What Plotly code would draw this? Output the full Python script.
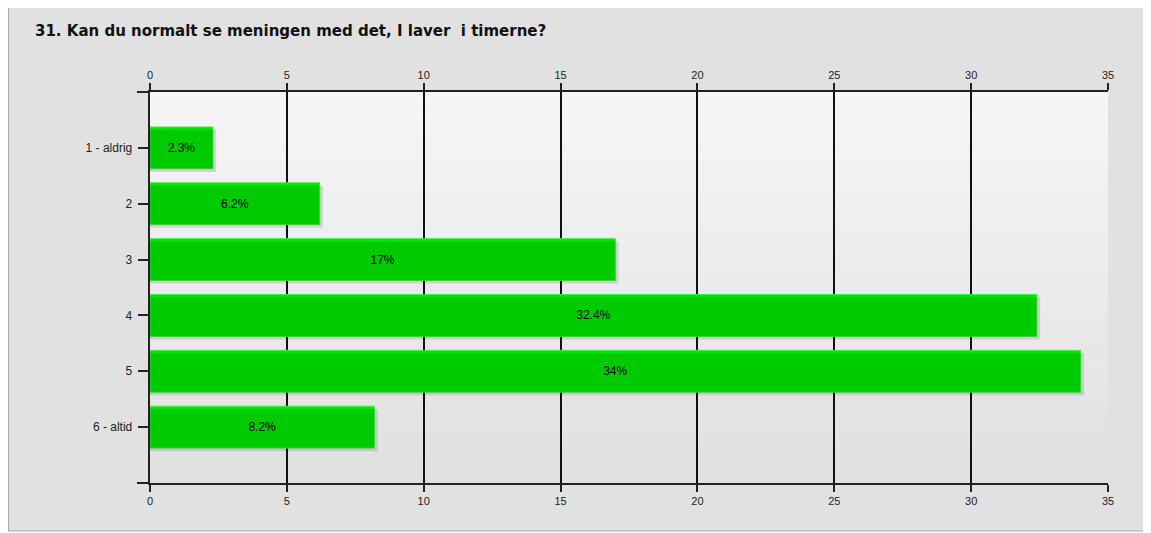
import plotly.graph_objects as go

categories = ["1 - aldrig", "2", "3", "4", "5", "6 - altid"]
values = [2.3, 6.2, 17, 32.4, 34, 8.2]
labels = ["2.3%", "6.2%", "17%", "32.4%", "34%", "8.2%"]
x_ticks = [0, 5, 10, 15, 20, 25, 30, 35]

# page body has an 8px margin; figure is placed at (8, 8)
OFF = 8
W, H = 1151 - OFF, 533 - OFF
L, R, T, B = 150 - OFF, 1108 - OFF, 92 - OFF, 483 - OFF


def px(x):
    return (x - OFF - L) / (R - L)


def py(y):
    return (B - (y - OFF)) / (B - T)


fig = go.Figure()

# shadow
fig.add_trace(go.Bar(
    y=categories, x=[v + 0.12 for v in values], orientation="h",
    width=0.75, offset=-0.375 + 0.055,
    marker=dict(color="rgba(0,0,0,0.12)", line=dict(width=0)),
    hoverinfo="skip", showlegend=False, xaxis="x2",
))
fig.add_trace(go.Bar(
    y=categories, x=values, orientation="h", width=0.75,
    marker=dict(color="#00e600", opacity=1, line=dict(color="#40f040", width=1)),
    opacity=1,
    text=labels, textposition="inside", insidetextanchor="middle",
    textfont=dict(family="Liberation Sans, Arial", size=12, color="#000000"),
    showlegend=False,
))

shapes = []
# outer frame
shapes.append(dict(type="rect", xref="paper", yref="paper",
                   x0=px(8.5), x1=px(1148), y0=py(531), y1=py(4.5),
                   line=dict(color="#a8a8a8", width=1), fillcolor="#e1e1e1", layer="below"))
# gradient background of plot area
n = 40
c0 = (246, 246, 246)
c1 = (224, 224, 224)
for i in range(n):
    t = i / (n - 1)
    c = tuple(int(round(c0[k] + (c1[k] - c0[k]) * t)) for k in range(3))
    shapes.append(dict(type="rect", xref="x domain", yref="y domain",
                       x0=0, x1=1, y0=1 - (i + 1) / n, y1=1 - i / n + 0.001,
                       line=dict(width=0), fillcolor="rgb(%d,%d,%d)" % c, layer="below"))
# axis line extensions
shapes.append(dict(type="line", xref="paper", yref="paper",
                   x0=px(137), x1=px(150), y0=0, y1=0,
                   line=dict(color="#222222", width=2)))
shapes.append(dict(type="line", xref="paper", yref="paper",
                   x0=px(137), x1=px(150), y0=1, y1=1,
                   line=dict(color="#222222", width=2)))

axis_font = dict(family="Liberation Sans, Arial", size=12, color="#222222")
xtick_font = dict(family="Liberation Sans, Arial", size=11, color="#222222")

fig.update_layout(
    width=W, height=H,
    margin=dict(l=L, r=W - R, t=T, b=H - B, pad=0),
    paper_bgcolor="#ffffff", plot_bgcolor="rgba(0,0,0,0)",
    barmode="overlay",
    title=dict(text="<b>31. Kan du normalt se meningen med det, I laver  i timerne?</b>",
               x=(35 - OFF) / W, xref="container", xanchor="left",
               y=1 - (31 - OFF) / H, yref="container", yanchor="middle",
               font=dict(family="DejaVu Sans, Verdana", size=15, color="#111111")),
    xaxis=dict(range=[0, 35], tickvals=x_ticks, showgrid=True, gridcolor="#111111", gridwidth=1.5,
               zeroline=False, showline=True, linecolor="#222222", linewidth=2, mirror=False,
               ticks="outside", ticklen=7, tickwidth=1.5, tickcolor="#222222",
               tickfont=xtick_font, side="bottom", fixedrange=True),
    xaxis2=dict(range=[0, 35], tickvals=x_ticks, overlaying="x", matches="x", side="top",
                showgrid=False, zeroline=False, showline=True, linecolor="#222222", linewidth=2,
                ticks="outside", ticklen=7, tickwidth=1.5, tickcolor="#222222",
                tickfont=xtick_font, anchor="y"),
    yaxis=dict(categoryorder="array", categoryarray=categories, range=[6, -1],
               showgrid=False, zeroline=False, showline=True, linecolor="#222222", linewidth=2,
               mirror=False, ticks="outside", ticklen=10, tickwidth=1.5, tickcolor="#222222",
               tickfont=axis_font, ticksuffix=" "),
    shapes=shapes,
    bargap=0.25,
)

fig.write_html("out.html")
